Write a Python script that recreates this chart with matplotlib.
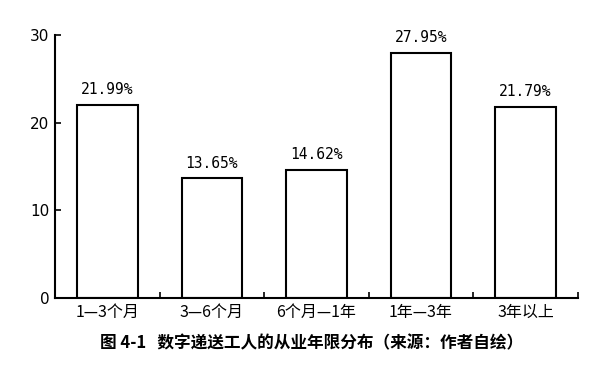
import matplotlib
matplotlib.use("Agg")
import matplotlib.pyplot as plt
import numpy as np

plt.rcParams['font.family'] = ['Noto Sans CJK SC', 'DejaVu Sans']

categories = ["1—3个月", "3—6个月", "6个月—1年", "1年—3年", "3年以上"]
values = [21.99, 13.65, 14.62, 27.95, 21.79]
labels = ["21.99%", "13.65%", "14.62%", "27.95%", "21.79%"]
yticks = [0, 10, 20, 30]
caption = "图 4-1   数字递送工人的从业年限分布（来源：作者自绘）"

fig = plt.figure(figsize=(6.05, 3.69), dpi=100)
ax = fig.add_axes([0.091, 0.192, 0.864, 0.713])

x = np.arange(len(categories))
ax.bar(x, values, width=0.58, color="white", edgecolor="black", linewidth=1.5)

for xi, v, lab in zip(x, values, labels):
    ax.text(xi, v + 0.9, lab, ha="center", va="bottom", fontsize=10.5,
            family="DejaVu Sans Mono")

ax.set_xlim(-0.5, 4.5)
ax.set_ylim(0, 30)
ax.set_yticks(yticks)
ax.set_yticklabels([str(t) for t in yticks], fontsize=11, family="DejaVu Sans")

# category labels centred, tick marks at the boundaries
ax.set_xticks(np.arange(-0.5, 5, 1.0))
ax.set_xticklabels([])
ax.set_xticks(x, minor=True)
ax.set_xticklabels(categories, minor=True, fontsize=11.5)
ax.tick_params(axis="x", which="minor", length=0, pad=4)
ax.tick_params(axis="x", which="major", direction="in", length=4, width=1.2)
ax.tick_params(axis="y", direction="in", length=4, width=1.2, pad=4)

for s in ["top", "right"]:
    ax.spines[s].set_visible(False)
for s in ["left", "bottom"]:
    ax.spines[s].set_linewidth(1.5)

fig.text(0.515, 0.07, caption, ha="center", va="center", fontsize=12,
         fontweight="bold")

fig.savefig("out.png", dpi=100)
